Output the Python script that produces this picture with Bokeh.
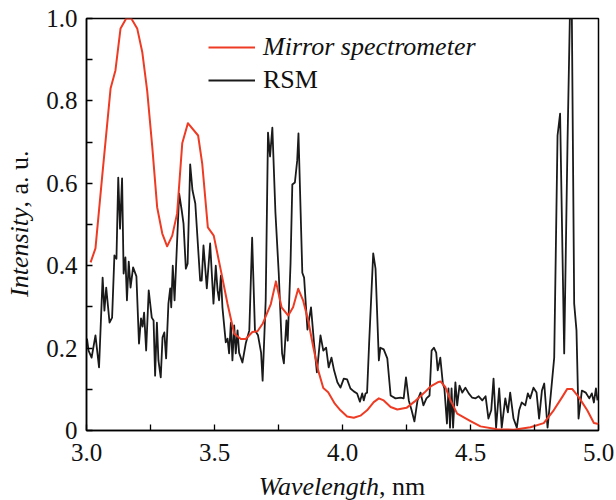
from bokeh.plotting import figure
from bokeh.models import Legend, LegendItem, FixedTicker, Div, Spacer
from bokeh.layouts import column, row
from bokeh.embed import file_html
from bokeh.resources import INLINE

# ---------------- data ----------------
mirror_wl = [3.016, 3.035, 3.061, 3.094, 3.113, 3.133, 3.155, 3.175, 3.198, 3.218,
             3.237, 3.257, 3.276, 3.296, 3.315, 3.335, 3.354, 3.374, 3.396, 3.436,
             3.452, 3.474, 3.497, 3.525, 3.551, 3.577, 3.603, 3.622, 3.648, 3.668,
             3.688, 3.720, 3.740, 3.762, 3.788, 3.807, 3.827, 3.846, 3.866, 3.886,
             3.905, 3.925, 3.944, 3.970, 3.992, 4.018, 4.044, 4.070, 4.096, 4.122,
             4.142, 4.161, 4.188, 4.214, 4.250, 4.281, 4.320, 4.346, 4.372, 4.383,
             4.402, 4.422, 4.448, 4.500, 4.539, 4.604, 4.669, 4.734, 4.786, 4.825,
             4.858, 4.878, 4.897, 4.923, 4.956, 4.982, 5.000]
mirror_int = [0.408, 0.442, 0.615, 0.830, 0.874, 0.976, 1.000, 1.000, 0.976, 0.918,
              0.825, 0.688, 0.542, 0.478, 0.447, 0.473, 0.527, 0.697, 0.746, 0.716,
              0.648, 0.493, 0.473, 0.388, 0.307, 0.235, 0.222, 0.222, 0.239, 0.241,
              0.259, 0.307, 0.362, 0.299, 0.279, 0.299, 0.344, 0.316, 0.267, 0.202,
              0.146, 0.103, 0.093, 0.065, 0.049, 0.034, 0.031, 0.036, 0.049, 0.069,
              0.078, 0.073, 0.057, 0.051, 0.055, 0.070, 0.092, 0.108, 0.117, 0.119,
              0.105, 0.073, 0.041, 0.023, 0.010, 0.003, 0.002, 0.008, 0.018, 0.049,
              0.081, 0.101, 0.101, 0.081, 0.049, 0.018, 0.016]

rsm_wl = [3.002, 3.008, 3.020, 3.035, 3.049, 3.063, 3.070, 3.077, 3.090, 3.100,
          3.109, 3.117, 3.124, 3.131, 3.139, 3.145, 3.152, 3.158, 3.165, 3.172,
          3.182, 3.195, 3.205, 3.213, 3.219, 3.225, 3.233, 3.243, 3.255, 3.262,
          3.268, 3.275, 3.281, 3.290, 3.297, 3.304, 3.311, 3.320, 3.327, 3.331,
          3.337, 3.344, 3.362, 3.372, 3.379, 3.388, 3.395, 3.405, 3.414, 3.425,
          3.444, 3.450, 3.457, 3.470, 3.483, 3.496, 3.505, 3.512, 3.518, 3.525,
          3.531, 3.544, 3.551, 3.557, 3.564, 3.570, 3.577, 3.583, 3.590, 3.596,
          3.609, 3.622, 3.636, 3.647, 3.658, 3.670, 3.682, 3.688, 3.700, 3.709,
          3.717, 3.726, 3.738, 3.751, 3.764, 3.771, 3.781, 3.786, 3.797, 3.804,
          3.814, 3.823, 3.828, 3.843, 3.850, 3.863, 3.877, 3.889, 3.900, 3.914,
          3.925, 3.936, 3.946, 3.957, 3.967, 3.980, 3.992, 4.005, 4.018, 4.031,
          4.044, 4.057, 4.068, 4.077, 4.083, 4.090, 4.096, 4.104, 4.120, 4.129,
          4.142, 4.148, 4.161, 4.175, 4.188, 4.207, 4.227, 4.239, 4.248, 4.259,
          4.270, 4.281, 4.293, 4.305, 4.316, 4.328, 4.340, 4.348, 4.357, 4.366,
          4.372, 4.382, 4.392, 4.398, 4.408, 4.414, 4.420, 4.426, 4.432, 4.441,
          4.448, 4.457, 4.468, 4.480, 4.493, 4.506, 4.520, 4.532, 4.546, 4.559,
          4.570, 4.581, 4.590, 4.600, 4.612, 4.622, 4.636, 4.646, 4.655, 4.668,
          4.681, 4.690, 4.700, 4.714, 4.724, 4.733, 4.746, 4.758, 4.768, 4.779,
          4.788, 4.801, 4.814, 4.827, 4.840, 4.850, 4.866, 4.879, 4.888, 4.896,
          4.905, 4.914, 4.922, 4.935, 4.950, 4.964, 4.974, 4.982, 4.990, 4.996]
rsm_int = [0.223, 0.194, 0.177, 0.231, 0.153, 0.371, 0.291, 0.347, 0.262, 0.274,
           0.425, 0.417, 0.614, 0.490, 0.612, 0.381, 0.420, 0.316, 0.410, 0.347,
           0.396, 0.374, 0.211, 0.272, 0.252, 0.286, 0.194, 0.340, 0.274, 0.267,
           0.133, 0.262, 0.170, 0.129, 0.226, 0.238, 0.175, 0.308, 0.345, 0.299,
           0.400, 0.316, 0.575, 0.534, 0.502, 0.393, 0.405, 0.646, 0.583, 0.551,
           0.364, 0.364, 0.449, 0.345, 0.454, 0.308, 0.400, 0.340, 0.316, 0.376,
           0.299, 0.214, 0.223, 0.187, 0.262, 0.170, 0.255, 0.187, 0.243, 0.189,
           0.165, 0.211, 0.243, 0.468, 0.243, 0.231, 0.189, 0.121, 0.316, 0.723,
           0.665, 0.735, 0.529, 0.381, 0.187, 0.163, 0.267, 0.218, 0.405, 0.597,
           0.602, 0.655, 0.721, 0.383, 0.371, 0.245, 0.299, 0.211, 0.141, 0.231,
           0.194, 0.201, 0.153, 0.177, 0.146, 0.117, 0.104, 0.126, 0.124, 0.102,
           0.095, 0.090, 0.070, 0.090, 0.073, 0.090, 0.092, 0.211, 0.430, 0.393,
           0.170, 0.201, 0.197, 0.175, 0.085, 0.078, 0.080, 0.078, 0.129, 0.073,
           0.049, 0.022, 0.073, 0.092, 0.061, 0.078, 0.085, 0.194, 0.201, 0.189,
           0.146, 0.177, 0.114, 0.102, 0.017, 0.102, 0.007, 0.102, 0.007, 0.117,
           0.061, 0.109, 0.092, 0.104, 0.090, 0.080, 0.078, 0.083, 0.073, 0.083,
           0.029, 0.049, 0.126, 0.007, 0.102, 0.007, 0.078, 0.044, 0.092, 0.029,
           0.007, 0.049, 0.068, 0.061, 0.090, 0.078, 0.104, 0.092, 0.029, 0.097,
           0.114, 0.007, 0.090, 0.177, 0.716, 0.769, 0.187, 0.699, 1.000, 1.000,
           0.308, 0.243, 0.029, 0.097, 0.092, 0.078, 0.090, 0.068, 0.102, 0.073]

series_labels = ["Mirror spectrometer", "RSM"]
x_ticks = [3.0, 3.5, 4.0, 4.5, 5.0]
x_tick_labels = ["3.0", "3.5", "4.0", "4.5", "5.0"]
x_minor_ticks = [3.25, 3.75, 4.25, 4.75]
y_ticks = [0.0, 0.2, 0.4, 0.6, 0.8, 1.0]
y_tick_labels = ["0", "0.2", "0.4", "0.6", "0.8", "1.0"]
y_minor_ticks = [0.1, 0.3, 0.5, 0.7, 0.9]
x_label_parts = ["Wavelength", ", nm"]
y_label_parts = ["Intensity", ", a. u."]

# ---------------- styling ----------------
FONT = "Liberation Serif"
RED = "#ee3b24"
BLACK = "#1a1a1a"

p = figure(width=576, height=474, x_range=(3.0, 5.0), y_range=(0.0, 1.0),
           output_backend="svg", toolbar_location=None,
           min_border_left=46, min_border_right=18,
           min_border_top=18, min_border_bottom=44)
p.xgrid.visible = False
p.ygrid.visible = False
p.background_fill_color = "white"
p.border_fill_color = "white"
p.outline_line_color = "black"
p.outline_line_width = 1.5

r_rsm = p.line(rsm_wl, rsm_int, line_color=BLACK, line_width=1.8, line_join="round")
r_mir = p.line(mirror_wl, mirror_int, line_color=RED, line_width=2.0, line_join="round")

p.xaxis.ticker = FixedTicker(ticks=x_ticks, minor_ticks=x_minor_ticks)
p.yaxis.ticker = FixedTicker(ticks=y_ticks, minor_ticks=y_minor_ticks)
p.xaxis.major_label_overrides = dict(zip(x_ticks, x_tick_labels))
p.yaxis.major_label_overrides = dict(zip(y_ticks, y_tick_labels))

for ax in (p.xaxis[0], p.yaxis[0]):
    ax.axis_line_width = 1.5
    ax.axis_line_color = "black"
    ax.major_tick_in = 6
    ax.major_tick_out = 0
    ax.minor_tick_in = 6
    ax.minor_tick_out = 0
    ax.major_tick_line_width = 1.3
    ax.minor_tick_line_width = 1.3
    ax.major_tick_line_color = "black"
    ax.minor_tick_line_color = "black"
    ax.major_label_text_font = FONT
    ax.major_label_text_font_size = "25px"
    ax.major_label_text_color = "#111111"
    ax.axis_label = None
p.xaxis.major_label_standoff = 13
p.yaxis.major_label_standoff = 9

# Legends (two, so that only the first label is italic)
leg_kw = dict(orientation="vertical", label_text_font=FONT,
              label_text_font_size="26px", label_text_color="#111111",
              glyph_width=47, glyph_height=30, label_height=30,
              label_standoff=8, padding=0, margin=0, spacing=0,
              border_line_color=None, background_fill_alpha=0)
leg1 = Legend(items=[LegendItem(label=series_labels[0], renderers=[r_mir])],
              location=(122, 368), label_text_font_style="italic", **leg_kw)
leg2 = Legend(items=[LegendItem(label=series_labels[1], renderers=[r_rsm])],
              location=(122, 335), label_text_font_style="normal", **leg_kw)
p.add_layout(leg1, "center")
p.add_layout(leg2, "center")

# Axis titles (mixed italic / upright) as HTML text beside the figure
common_css = {"font-family": "'Liberation Serif', serif", "font-size": "26px",
              "color": "#111111", "white-space": "nowrap", "overflow": "visible"}
ylab = Div(text="<i>%s</i>%s" % tuple(y_label_parts), width=40, height=448,
           margin=0,
           styles=dict(common_css, **{"writing-mode": "vertical-rl",
                                      "transform": "rotate(180deg)",
                                      "text-align": "center",
                                      "line-height": "40px"}))
xlab = Div(text="<i>%s</i>%s" % tuple(x_label_parts), width=512, height=26,
           margin=0,
           styles=dict(common_css, **{"text-align": "center",
                                      "line-height": "26px"}))

layout = column(row(ylab, p, spacing=0),
                row(Spacer(width=86, height=26, margin=0), xlab, spacing=0),
                spacing=0)

open("out.html", "w").write(file_html(layout, INLINE))
